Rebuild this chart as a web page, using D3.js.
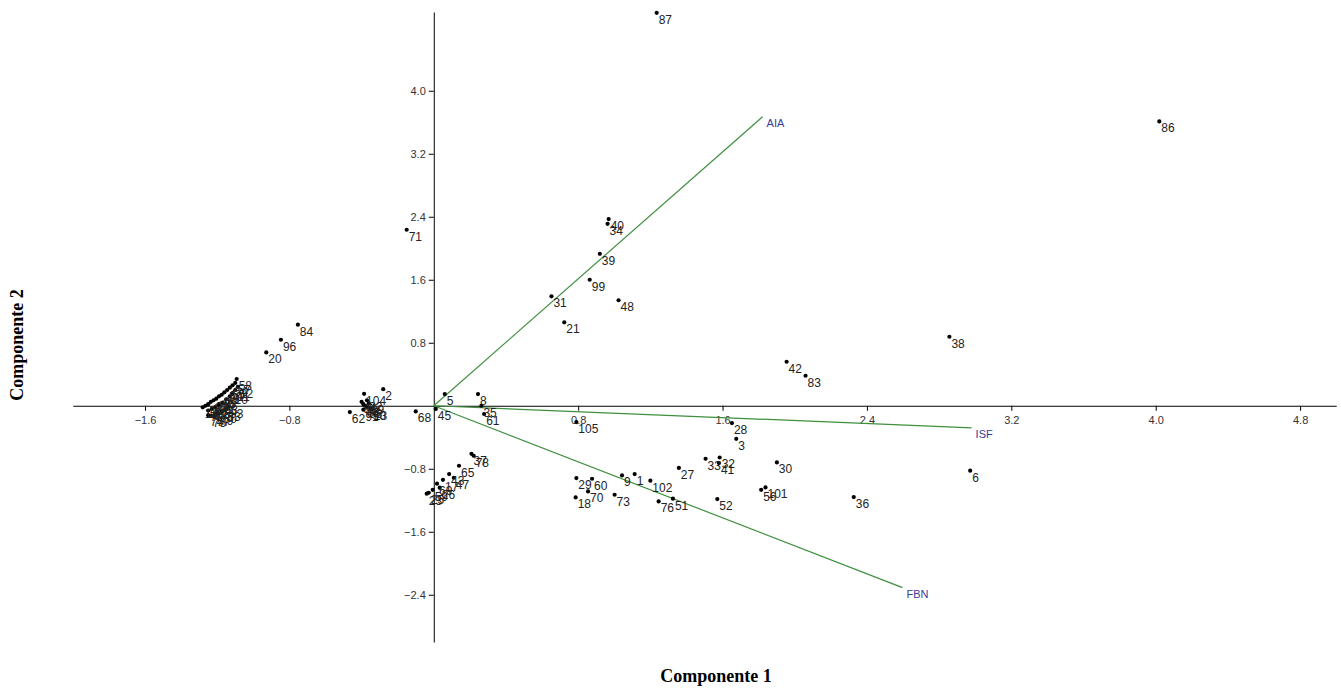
<!DOCTYPE html>
<html><head><meta charset="utf-8">
<script src="https://cdn.jsdelivr.net/npm/d3@7"></script>
<style>body{margin:0;background:#fff}svg{display:block}</style>
</head><body>
<svg id="chart" width="1341" height="690"></svg>
<script>
// ---- data ----
const xTicks = [-1.6, -0.8, 0.8, 1.6, 2.4, 3.2, 4.0, 4.8];
const yTicks = [-2.4, -1.6, -0.8, 0.8, 1.6, 2.4, 3.2, 4.0];
const vectorNames = ["AIA", "ISF", "FBN"];
const vectorX = [1.822, 2.98, 2.597];
const vectorY = [3.67, -0.28, -2.31];

const pointLabels = [
 "87","86","38","42","83","40","34","39","99","31","48","21","71","84","96","20",
 "2","104","62","68","45","5","8","35","61","105","28","3","33","32","41","27","30",
 "29","60","70","18","73","9","1","102","76","51","52","56","101","36","6",
 "37","78","65","43","47","17","69","59","25","23","26",
 "81","82","85","88","89","90","91","92","13",
 "58","57","54","55","50","49","44","46","24","22","19","16","15","14",
 "12","11","10","7","4","63","64","66","67","72","74","75","77","79","80","53","93"
];
const pc1 = [
 1.235,4.02,2.857,1.955,2.06,0.969,0.963,0.92,0.864,0.652,1.024,0.723,-0.15,-0.753,-0.847,-0.928,
 -0.28,-0.386,-0.465,-0.10,0.011,0.061,0.245,0.264,0.279,0.79,1.652,1.676,1.506,1.584,1.58,1.358,1.901,
 0.79,0.877,0.855,0.786,1.002,1.043,1.113,1.20,1.246,1.325,1.571,1.814,1.838,2.327,2.972,
 0.209,0.221,0.14,0.085,0.111,0.051,0.018,-0.006,-0.028,-0.039,0.033,
 -0.40,-0.39,-0.38,-0.37,-0.36,-0.35,-0.39,-0.37,-0.343,
 -1.092,-1.100,-1.115,-1.130,-1.145,-1.160,-1.175,-1.190,-1.205,-1.220,-1.235,-1.250,-1.265,-1.280,
 -1.085,-1.100,-1.115,-1.130,-1.150,-1.170,-1.190,-1.210,-1.230,-1.250,-1.250,-1.235,-1.215,-1.195,-1.175,-1.155,-1.140
];
const pc2 = [
 4.99,3.61,0.876,0.559,0.381,2.37,2.31,1.93,1.60,1.39,1.34,1.06,2.235,1.03,0.838,0.677,
 0.21,0.152,-0.08,-0.072,-0.04,0.148,0.148,0.0,-0.105,-0.207,-0.22,-0.42,-0.673,-0.657,-0.728,-0.79,-0.72,
 -0.918,-0.927,-1.088,-1.164,-1.13,-0.885,-0.867,-0.952,-1.215,-1.18,-1.185,-1.067,-1.037,-1.16,-0.825,
 -0.61,-0.635,-0.762,-0.867,-0.914,-0.94,-0.99,-1.067,-1.105,-1.117,-1.04,
 0.05,0.02,0.0,-0.02,0.03,-0.04,-0.05,0.07,-0.04,
 0.34,0.29,0.26,0.23,0.20,0.17,0.14,0.12,0.09,0.07,0.05,0.02,0.00,-0.02,
 0.24,0.20,0.16,0.12,0.08,0.04,0.01,-0.02,-0.04,-0.06,-0.12,-0.13,-0.12,-0.10,-0.08,-0.05,-0.02
];

// ---- drawing ----
const svg = d3.select("#chart");
const x = d3.scaleLinear().domain([-2.0, 5.0]).range([72.8, 1336.2]);
const y = d3.scaleLinear().domain([-3.0, 5.0]).range([642, 12]);
const font = "'Liberation Sans', Arial, sans-serif";

// x axis
const xAxis = svg.append("g").attr("transform", `translate(0,${y(0)})`)
  .call(d3.axisBottom(x).tickValues(xTicks).tickSize(5).tickSizeOuter(0).tickFormat(d3.format(".1f")));
xAxis.select(".domain").attr("stroke", "#000");
xAxis.selectAll(".tick line").attr("stroke", "#000");
xAxis.selectAll("text").attr("font-family", font).attr("font-size", 11).attr("fill", "#333").attr("dy", "0.9em");

// y axis
const yAxis = svg.append("g").attr("transform", `translate(${x(0)},0)`)
  .call(d3.axisLeft(y).tickValues(yTicks).tickSize(5).tickSizeOuter(0).tickFormat(d3.format(".1f")));
yAxis.select(".domain").attr("stroke", "#000");
yAxis.selectAll(".tick line").attr("stroke", "#000");
yAxis.selectAll("text").attr("font-family", font).attr("font-size", 11).attr("fill", "#333");

// vectors
const vecs = vectorNames.map((n, i) => ({name: n, vx: vectorX[i], vy: vectorY[i]}));
svg.append("g").selectAll("line").data(vecs).join("line")
  .attr("x1", x(0)).attr("y1", y(0))
  .attr("x2", d => x(d.vx)).attr("y2", d => y(d.vy))
  .attr("stroke", "#3f8f3f").attr("stroke-width", 1.2);
svg.append("g").selectAll("text").data(vecs).join("text")
  .attr("x", d => x(d.vx) + 4).attr("y", d => y(d.vy) + 10)
  .attr("font-family", font).attr("font-size", 11).attr("fill", "#3a3a9a")
  .text(d => d.name);

// points
const pts = pointLabels.map((l, i) => ({label: l, px: pc1[i], py: pc2[i]}));
svg.append("g").selectAll("circle").data(pts).join("circle")
  .attr("cx", d => x(d.px)).attr("cy", d => y(d.py)).attr("r", 2.1).attr("fill", "#000");
svg.append("g").selectAll("text").data(pts).join("text")
  .attr("x", d => x(d.px) + 2).attr("y", d => y(d.py) + 11)
  .attr("font-family", font).attr("font-size", 12).attr("fill", "#222")
  .text(d => d.label);

// axis titles
svg.append("text").attr("x", 716).attr("y", 682).attr("text-anchor", "middle")
  .attr("font-family", "'Liberation Serif', 'Times New Roman', serif").attr("font-weight", "bold")
  .attr("font-size", 18).text("Componente 1");
svg.append("text").attr("transform", "translate(23,345) rotate(-90)").attr("text-anchor", "middle")
  .attr("font-family", "'Liberation Serif', 'Times New Roman', serif").attr("font-weight", "bold")
  .attr("font-size", 18).text("Componente 2");
</script>
</body></html>
